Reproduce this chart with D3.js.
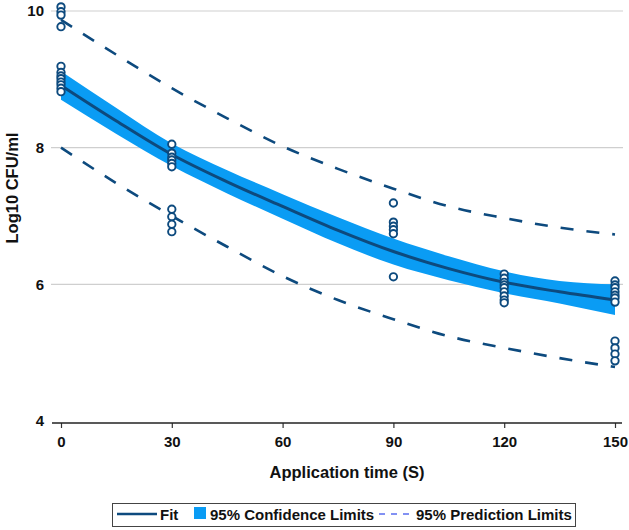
<!DOCTYPE html>
<html>
<head>
<meta charset="utf-8">
<script src="https://cdn.jsdelivr.net/npm/d3@7"></script>
<style>
  html, body { margin: 0; padding: 0; background: #fff; }
  svg { display: block; font-family: "Liberation Sans", Arial, Helvetica, sans-serif; font-weight: bold; }
</style>
</head>
<body>
<svg id="chart" width="629" height="530"></svg>
<script>
// ---- data ----
const curveTimes = [0, 15, 30, 45, 60, 75, 90, 105, 120, 135, 150];
const fitValues  = [8.91, 8.39, 7.90, 7.50, 7.14, 6.79, 6.48, 6.23, 6.03, 5.89, 5.77];
const confUpper  = [9.12, 8.58, 8.06, 7.67, 7.32, 6.98, 6.67, 6.41, 6.19, 6.05, 6.00];
const confLower  = [8.70, 8.20, 7.73, 7.33, 6.96, 6.60, 6.29, 6.06, 5.87, 5.72, 5.55];
const predUpper  = [9.87, 9.36, 8.87, 8.43, 8.02, 7.69, 7.40, 7.14, 6.97, 6.83, 6.73];
const predLower  = [8.00, 7.48, 7.00, 6.55, 6.12, 5.77, 5.49, 5.24, 5.07, 4.92, 4.79];

const obsTime0   = [0, 0, 0, 0, 0, 0, 0, 0, 0, 0, 0, 0];
const obsValue0  = [10.06, 9.99, 9.94, 9.77, 9.19, 9.10, 9.05, 9.01, 8.96, 8.92, 8.87, 8.82];
const obsTime30  = [30, 30, 30, 30, 30, 30, 30, 30, 30, 30];
const obsValue30 = [8.05, 7.92, 7.86, 7.82, 7.77, 7.72, 7.10, 6.99, 6.88, 6.77];
const obsTime90  = [90, 90, 90, 90, 90, 90];
const obsValue90 = [7.19, 6.91, 6.85, 6.80, 6.74, 6.11];
const obsTime120 = [120, 120, 120, 120, 120, 120, 120, 120, 120];
const obsValue120= [6.15, 6.09, 6.03, 5.99, 5.95, 5.89, 5.83, 5.77, 5.73];
const obsTime150 = [150, 150, 150, 150, 150, 150, 150, 150, 150, 150, 150];
const obsValue150= [6.05, 5.99, 5.95, 5.89, 5.84, 5.80, 5.74, 5.17, 5.07, 4.98, 4.88];

const xTicks = [0, 30, 60, 90, 120, 150];
const yTicks = [4, 6, 8, 10];
const gridValues = [6, 8, 10];
const legendLabels = ["Fit", "95% Confidence Limits", "95% Prediction Limits"];
const xTitle = "Application time (S)";
const yTitle = "Log10 CFU/ml";

// ---- styles ----
const navy = "#0d4a7e";
const bandBlue = "#0a9cf4";
const dashLegend = "#5a6ef0";

const svg = d3.select("#chart");
const x = d3.scaleLinear().domain([0, 150]).range([61, 615]);
const y = d3.scaleLinear().domain([4, 10]).range([421, 11]);

// gridlines
svg.append("g").selectAll("line").data(gridValues).join("line")
  .attr("x1", 51).attr("x2", 623)
  .attr("y1", d => y(d)).attr("y2", d => y(d))
  .attr("stroke", "#cfcfcf").attr("stroke-width", 1.2);

// y tick labels
svg.append("g").selectAll("text").data(yTicks).join("text")
  .attr("x", 44).attr("y", d => y(d)).attr("dy", "0.35em")
  .attr("text-anchor", "end").attr("font-size", 15).attr("fill", "#111")
  .text(d => d);

// x axis
const xAxis = d3.axisBottom(x).tickValues(xTicks).tickSize(5).tickPadding(8).tickSizeOuter(0);
const gx = svg.append("g").attr("transform", "translate(0,423)").call(xAxis);
gx.select(".domain").remove();
gx.selectAll(".tick line").attr("stroke", "#333").attr("stroke-width", 1.2);
gx.selectAll(".tick text").attr("font-size", 15).attr("font-weight", "bold")
  .attr("fill", "#111").attr("font-family", '"Liberation Sans", Arial, sans-serif');
gx.append("line").attr("x1", 52).attr("x2", 622).attr("y1", 0).attr("y2", 0)
  .attr("stroke", "#222").attr("stroke-width", 1.6);

// titles
svg.append("text").attr("x", 347).attr("y", 478).attr("text-anchor", "middle")
  .attr("font-size", 16.5).attr("fill", "#111").text(xTitle);
svg.append("text").attr("transform", "translate(12,188) rotate(-90)")
  .attr("text-anchor", "middle").attr("dy", "0.35em")
  .attr("font-size", 16.5).attr("fill", "#111").text(yTitle);

// confidence band
const band = curveTimes.map((t, i) => ({t, lo: confLower[i], hi: confUpper[i]}));
svg.append("path").datum(band)
  .attr("d", d3.area().x(d => x(d.t)).y0(d => y(d.lo)).y1(d => y(d.hi)).curve(d3.curveMonotoneX))
  .attr("fill", bandBlue);

// fit line
const line = d3.line().x(d => x(d[0])).y(d => y(d[1])).curve(d3.curveMonotoneX);
svg.append("path").datum(curveTimes.map((t, i) => [t, fitValues[i]]))
  .attr("d", line).attr("fill", "none").attr("stroke", navy).attr("stroke-width", 3);

// prediction limits
[predUpper, predLower].forEach(arr => {
  svg.append("path").datum(curveTimes.map((t, i) => [t, arr[i]]))
    .attr("d", line).attr("fill", "none").attr("stroke", navy)
    .attr("stroke-width", 2.6).attr("stroke-dasharray", "13,13");
});

// observations
const obs = [];
[[obsTime0, obsValue0], [obsTime30, obsValue30], [obsTime90, obsValue90],
 [obsTime120, obsValue120], [obsTime150, obsValue150]].forEach(([ts, vs]) => {
  ts.forEach((t, i) => obs.push({t, v: vs[i]}));
});
svg.append("g").selectAll("circle").data(obs).join("circle")
  .attr("cx", d => x(d.t)).attr("cy", d => y(d.v)).attr("r", 3.7)
  .attr("fill", "#fff").attr("stroke", navy).attr("stroke-width", 1.9);

// legend
const lg = svg.append("g");
lg.append("rect").attr("x", 112.5).attr("y", 503.5).attr("width", 463).attr("height", 23)
  .attr("fill", "#fff").attr("stroke", "#444").attr("stroke-width", 1);
lg.append("line").attr("x1", 117).attr("x2", 157).attr("y1", 514).attr("y2", 514)
  .attr("stroke", navy).attr("stroke-width", 2.6);
lg.append("text").attr("x", 160).attr("y", 519.5).attr("font-size", 15).attr("fill", "#111").text(legendLabels[0]);
lg.append("rect").attr("x", 194).attr("y", 507).attr("width", 12).attr("height", 12).attr("fill", bandBlue);
lg.append("text").attr("x", 210).attr("y", 519.5).attr("font-size", 15).attr("fill", "#111").text(legendLabels[1]);
lg.append("line").attr("x1", 379).attr("x2", 413).attr("y1", 514).attr("y2", 514)
  .attr("stroke", dashLegend).attr("stroke-width", 1.6).attr("stroke-dasharray", "6,6");
lg.append("text").attr("x", 416).attr("y", 519.5).attr("font-size", 15).attr("fill", "#111").text(legendLabels[2]);
</script>
</body>
</html>
